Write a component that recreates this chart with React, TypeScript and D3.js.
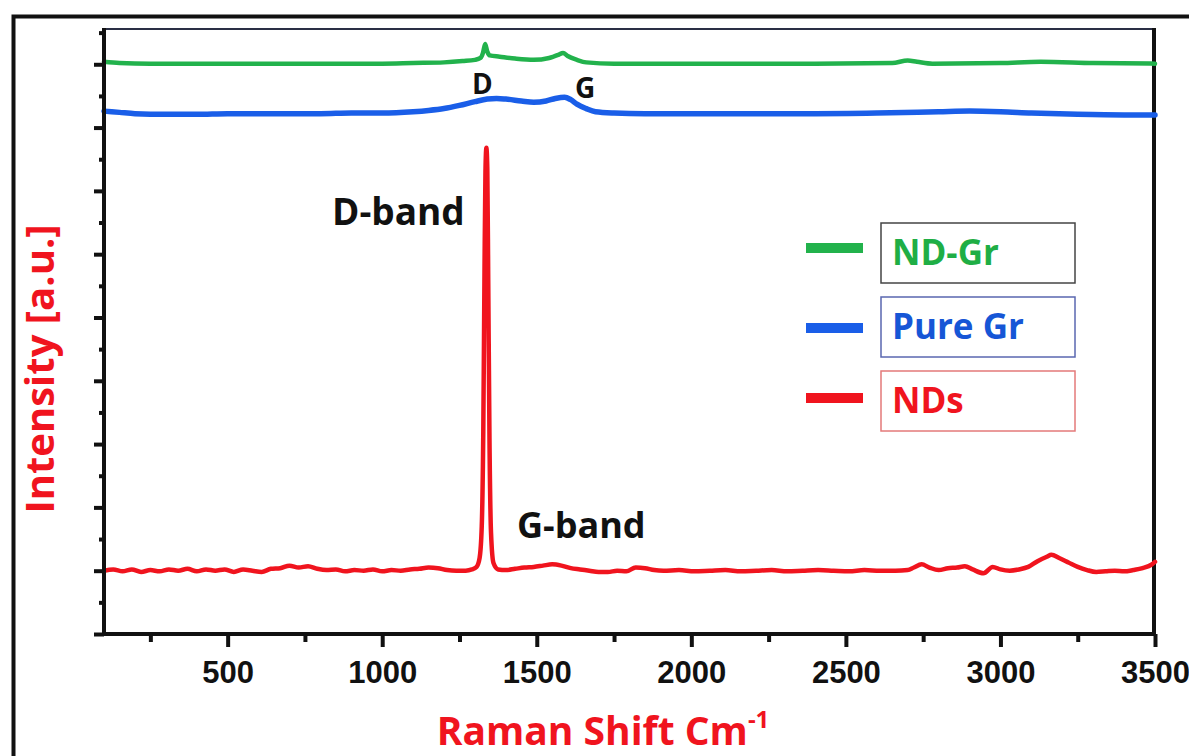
import React, { useEffect, useRef } from "react";
import * as d3 from "d3";

// tick values
const xMajor = [500, 1000, 1500, 2000, 2500, 3000, 3500];
const xMinor = [250, 750, 1250, 1750, 2250, 2750, 3250];
const yMajor = [0, 1, 2, 3, 4, 5, 6, 7, 8, 9];
const yMinor = [0.5, 1.5, 2.5, 3.5, 4.5, 5.5, 6.5, 7.5, 8.5, 9.5];

// NDs (red)
const ndsShift = [100, 130, 160, 190, 220, 250, 280, 310, 340, 370, 400, 430, 460, 490, 520, 550, 580, 610, 640, 670, 700, 730, 760, 790, 820, 850, 880, 910, 940, 970, 1000, 1030, 1060, 1090, 1120, 1150, 1180, 1210, 1240, 1270, 1290, 1305, 1315, 1322, 1327, 1331, 1334, 1337, 1340, 1343, 1347, 1352, 1360, 1375, 1400, 1430, 1460, 1490, 1520, 1550, 1580, 1610, 1640, 1670, 1700, 1730, 1760, 1790, 1820, 1850, 1880, 1910, 1960, 2010, 2060, 2110, 2160, 2210, 2260, 2310, 2360, 2410, 2460, 2510, 2560, 2610, 2660, 2700, 2720, 2745, 2770, 2800, 2830, 2860, 2885, 2910, 2945, 2975, 3000, 3030, 3060, 3090, 3120, 3150, 3165, 3190, 3220, 3250, 3280, 3310, 3340, 3370, 3400, 3430, 3460, 3490, 3500];
const ndsIntensity = [1.0, 1.02, 0.99, 1.02, 0.98, 1.01, 0.99, 1.02, 1.0, 1.03, 0.99, 1.02, 1.0, 1.02, 0.98, 1.02, 1.0, 0.98, 1.03, 1.04, 1.08, 1.05, 1.07, 1.03, 1.01, 1.02, 0.99, 1.01, 1.0, 1.02, 0.99, 1.01, 1.0, 1.02, 1.03, 1.05, 1.04, 1.01, 1.0, 1.0, 1.02, 1.06, 1.2, 1.7, 3.2, 5.8, 7.3, 7.68, 7.35, 5.6, 3.1, 1.6, 1.12, 1.02, 1.01, 1.03, 1.05, 1.06, 1.08, 1.1, 1.08, 1.04, 1.02, 1.0, 0.98, 0.98, 1.0, 0.99, 1.05, 1.04, 1.01, 1.0, 1.01, 0.99, 1.0, 1.01, 0.99, 1.0, 1.01, 0.99, 1.0, 1.01, 1.0, 0.99, 1.01, 1.0, 1.0, 1.01, 1.05, 1.1, 1.05, 1.01, 1.04, 1.05, 1.07, 1.02, 0.96, 1.06, 1.02, 1.0, 1.02, 1.06, 1.15, 1.22, 1.25, 1.2, 1.13, 1.06, 1.01, 0.98, 0.99, 1.0, 0.99, 1.01, 1.04, 1.1, 1.14];

// Pure Gr (blue)
const pureGrShift = [100, 150, 200, 300, 400, 500, 600, 700, 800, 900, 1000, 1100, 1150, 1200, 1250, 1300, 1340, 1370, 1400, 1450, 1490, 1530, 1560, 1590, 1610, 1630, 1660, 1690, 1750, 1850, 2000, 2200, 2400, 2600, 2800, 2900, 3000, 3100, 3250, 3400, 3500];
const pureGrIntensity = [8.26, 8.24, 8.22, 8.21, 8.21, 8.22, 8.22, 8.22, 8.22, 8.23, 8.23, 8.25, 8.27, 8.3, 8.35, 8.41, 8.45, 8.46, 8.45, 8.42, 8.4, 8.42, 8.46, 8.48, 8.44, 8.37, 8.3, 8.25, 8.23, 8.22, 8.22, 8.22, 8.22, 8.23, 8.25, 8.26, 8.25, 8.23, 8.21, 8.2, 8.2];

// ND-Gr (green)
const ndGrShift = [100, 150, 250, 400, 600, 800, 1000, 1100, 1200, 1260, 1300, 1318, 1326, 1333, 1340, 1348, 1380, 1430, 1490, 1540, 1570, 1585, 1600, 1630, 1660, 1750, 2000, 2400, 2650, 2700, 2730, 2780, 3000, 3130, 3300, 3500];
const ndGrIntensity = [9.04, 9.02, 9.01, 9.01, 9.01, 9.01, 9.01, 9.02, 9.03, 9.05, 9.07, 9.1, 9.18, 9.32, 9.2, 9.14, 9.12, 9.09, 9.07, 9.1, 9.15, 9.18, 9.13, 9.07, 9.03, 9.01, 9.01, 9.01, 9.02, 9.06, 9.04, 9.01, 9.02, 9.04, 9.02, 9.01];

const seriesNames = ["ND-Gr", "Pure Gr", "NDs"];
const seriesColors = ["#22b24c", "#1a5ee8", "#f0141e"];
const textColors = ["#1fae45", "#1656d6", "#f0141e"];
const boxColors = ["#444444", "#5a67b0", "#e47a7a"];

const left = 104, right = 1155, top = 28, bottom = 634;

function App() {
  const xRef = useRef(null);
  const yRef = useRef(null);

  const x = d3.scaleLinear().domain([100, 3500]).range([left, right]);
  const y = d3.scaleLinear().domain([0, 9.573]).range([bottom, top]);

  useEffect(() => {
    // x axis: major + minor ticks
    const gx = d3.select(xRef.current);
    gx.selectAll("*").remove();
    gx.append("g")
      .call(d3.axisBottom(x).tickValues(xMinor).tickSize(8).tickSizeOuter(0).tickFormat(() => ""))
      .call(g => g.select(".domain").remove());
    const major = gx.append("g")
      .call(d3.axisBottom(x).tickValues(xMajor).tickSize(13).tickSizeOuter(0).tickFormat(d3.format("d")));
    major.select(".domain").remove();
    major.selectAll("text")
      .attr("y", 0)
      .attr("dy", 0)
      .attr("transform", "translate(0,49)")
      .style("font-family", "'Liberation Sans', Arial, sans-serif")
      .style("font-weight", "bold")
      .style("font-size", "31px")
      .attr("fill", "#111");
    gx.selectAll("line").attr("stroke", "#111").attr("stroke-width", 4);

    // y axis: ticks only, no labels
    const gy = d3.select(yRef.current);
    gy.selectAll("*").remove();
    gy.append("g")
      .call(d3.axisLeft(y).tickValues(yMinor).tickSize(5).tickSizeOuter(0).tickFormat(() => ""))
      .call(g => g.select(".domain").remove());
    gy.append("g")
      .call(d3.axisLeft(y).tickValues(yMajor).tickSize(10).tickSizeOuter(0).tickFormat(() => ""))
      .call(g => g.select(".domain").remove());
    gy.selectAll("line").attr("stroke", "#111").attr("stroke-width", 4);
  });

  const line = d3.line<[number, number]>()
    .x(d => x(d[0]))
    .y(d => y(d[1]))
    .curve(d3.curveMonotoneX);

  const series = [
    d3.zip(ndGrShift, ndGrIntensity),
    d3.zip(pureGrShift, pureGrIntensity),
    d3.zip(ndsShift, ndsIntensity),
  ];
  const widths = [4.5, 5.5, 4.5];

  const font = "'Open Sans', 'Noto Sans', sans-serif";

  return (
    <svg width={1189} height={756} style={{ position: "absolute", left: 0, top: 0, background: "#fff" }}>
      <rect x={13.5} y={16.5} width={1400} height={900} fill="none" stroke="#111" strokeWidth={4} />

      {/* plot frame */}
      <line x1={left} x2={right} y1={29} y2={29} stroke="#2a2f45" strokeWidth={2} />
      <line x1={right - 1} x2={right - 1} y1={top} y2={bottom} stroke="#111" strokeWidth={4} />

      {series.map((s, i) => (
        <path key={i} d={line(s as [number, number][]) || ""} fill="none" stroke={seriesColors[i]}
          strokeWidth={widths[i]} strokeLinejoin="round" strokeLinecap="round" />
      ))}

      <line x1={left} x2={left} y1={top} y2={bottom} stroke="#111" strokeWidth={4} />
      <line x1={left - 2} x2={right + 1} y1={bottom} y2={bottom} stroke="#111" strokeWidth={4} />
      <g ref={xRef} transform={`translate(0,${bottom})`} />
      <g ref={yRef} transform={`translate(${left},0)`} />

      {/* peak annotations */}
      <text x={332} y={225} fontFamily={font} fontWeight="bold" fontSize={37} fill="#111">D-band</text>
      <text x={517} y={538} fontFamily={font} fontWeight="bold" fontSize={36} fill="#111">G-band</text>
      <text x={472} y={94} fontFamily={font} fontWeight="bold" fontSize={28} fill="#111">D</text>
      <text x={575} y={98} fontFamily={font} fontWeight="bold" fontSize={28} fill="#111">G</text>

      {/* legend */}
      {seriesNames.map((name, i) => {
        const boxY = [223, 297, 371][i];
        const lineY = [248, 328, 398][i];
        return (
          <g key={name}>
            <line x1={806} x2={863} y1={lineY} y2={lineY} stroke={seriesColors[i]} strokeWidth={10} />
            <rect x={881} y={boxY} width={194} height={60} fill="none" stroke={boxColors[i]} strokeWidth={1.5} />
            <text x={892} y={boxY + 42} fontFamily={font} fontWeight="bold" fontSize={35} fill={textColors[i]}>{name}</text>
          </g>
        );
      })}

      {/* axis titles */}
      <text x={603} y={745} textAnchor="middle" fontFamily={font} fontWeight="bold" fontSize={39} fill="#f0141e">
        Raman Shift Cm<tspan fontSize={24} dy={-17}>-1</tspan>
      </text>
      <text transform="translate(54,369) rotate(-90)" textAnchor="middle" fontFamily={font} fontWeight="bold"
        fontSize={40} fill="#f0141e">Intensity [a.u.]</text>
    </svg>
  );
}

export default App;
